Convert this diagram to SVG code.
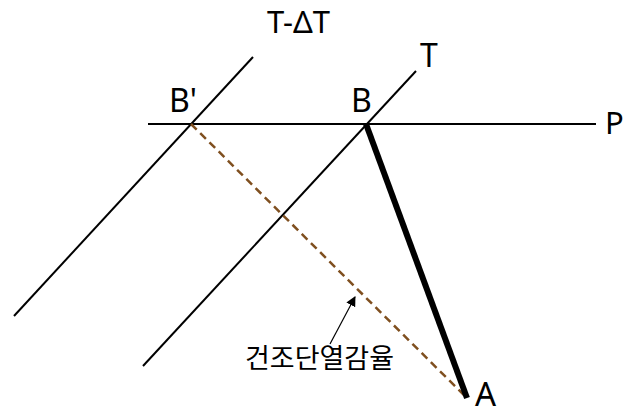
<svg xmlns="http://www.w3.org/2000/svg" width="626" height="412" viewBox="0 0 626 412">
<defs>
<style>
.ln{stroke:#000;stroke-width:2;fill:none}
.t{font-family:"Noto Sans","Noto Sans CJK KR",sans-serif;fill:#000}
</style>
<marker id="ah" markerWidth="10" markerHeight="10" refX="9" refY="5" orient="auto" markerUnits="userSpaceOnUse"><path d="M0,0 L10,5 L0,10 Z" fill="#000"/></marker>
</defs>
<rect width="626" height="412" fill="#fff"/>
<g id="connectors">
<line class="ln" x1="148" y1="124" x2="596" y2="124"/>
<line class="ln" x1="253" y1="57" x2="14" y2="316"/>
<line class="ln" x1="416" y1="71" x2="143" y2="366"/>
<line x1="191" y1="124" x2="467" y2="398" stroke="#7F4F1F" stroke-width="2.5" stroke-dasharray="8,5"/>
<line x1="366" y1="124" x2="467" y2="398" stroke="#000" stroke-width="6"/>
<line x1="330" y1="344" x2="355" y2="297" stroke="#000" stroke-width="1.2" marker-end="url(#ah)"/>
</g>
<g id="T-dT"><text class="t" x="267" y="33" font-size="31">T-ΔT</text></g>
<g id="T"><text class="t" x="420" y="67" font-size="32">T</text></g>
<g id="Bp"><text class="t" x="169" y="112" font-size="32">B'</text></g>
<g id="B"><text class="t" x="351" y="112" font-size="32">B</text></g>
<g id="P"><text class="t" x="605" y="134" font-size="31">P</text></g>
<g id="A"><text class="t" x="475" y="406" font-size="33">A</text></g>
<g id="label"><text class="t" x="245" y="368" font-size="27">건조단열감율</text></g>
</svg>
